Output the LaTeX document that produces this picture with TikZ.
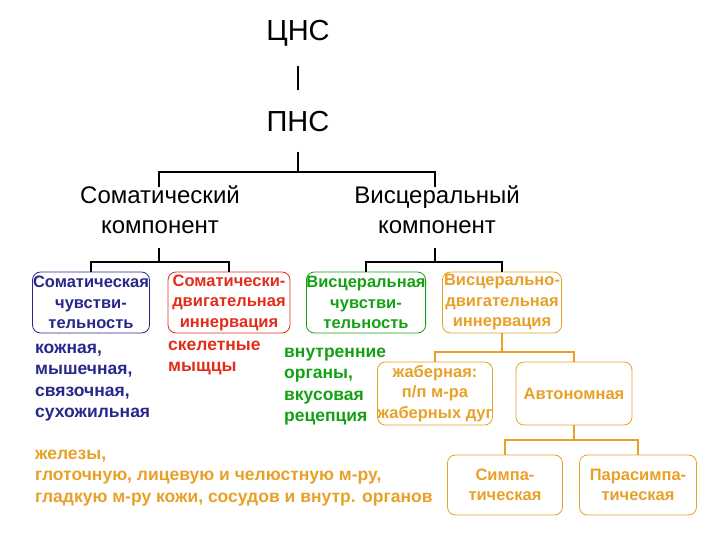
\documentclass[tikz,border=0pt]{standalone}
\usepackage{fontspec}
\setmainfont{Liberation Sans}
\begin{document}
\begin{tikzpicture}[x=1pt,y=-1pt,
  big/.style={font=\fontsize{29}{32}\selectfont,inner sep=0pt},
  comp/.style={font=\fontsize{24}{30}\selectfont,align=center,inner sep=0pt},
  bx/.style={draw=#1,text=#1,rounded corners=8pt,line width=0.8pt,font=\bfseries\fontsize{16.5}{20.5}\selectfont,align=center,inner sep=0pt},
  lst/.style={text=#1,font=\bfseries\fontsize{17.5}{21.3}\selectfont,align=left,anchor=north west,inner sep=0pt},
  ln/.style={draw=#1,line width=1.6pt}]
\useasboundingbox (0,0) rectangle (720,540);
\definecolor{cblue}{RGB}{40,40,140}
\definecolor{cred}{RGB}{225,45,25}
\definecolor{cgreen}{RGB}{20,160,20}
\definecolor{corange}{RGB}{232,160,40}
\node[big] (cns) at (298,33) {ЦНС};
\node[big] (pns) at (298,122) {ПНС};
\draw[ln=black] (298,66) -- (298,90);
\node[comp] (som) at (160,210) {Соматический\\компонент};
\node[comp] (vis) at (437,210) {Висцеральный\\компонент};
\draw[ln=black] (298,152) -- (298,172);
\draw[ln=black] (159,187) -- (159,172) -- (435,172) -- (435,187);
% boxes
\node[bx=cblue, minimum width=117pt, minimum height=61pt] (b1) at (91,302.5) {Соматическая\\чувстви-\\тельность};
\node[bx=cred, minimum width=122pt, minimum height=61pt] (b2) at (229,302.5) {Соматически-\\двигательная\\иннервация};
\node[bx=cgreen, minimum width=118pt, minimum height=61pt] (b3) at (366,302.5) {Висцеральная\\чувстви-\\тельность};
\node[bx=corange, minimum width=119pt, minimum height=61pt] (b4) at (502,302.5) {Висцерально-\\двигательная\\иннервация};
\draw[ln=black] (159,248) -- (159,262);
\draw[ln=black] (b1.north) -- (91,262) -- (229,262) -- (b2.north);
\draw[ln=black] (435,248) -- (435,262);
\draw[ln=black] (b3.north) -- (366,262) -- (502,262) -- (b4.north);
% lists
\node[lst=cblue] (l1) at (35,344) {кожная,\\мышечная,\\связочная,\\сухожильная};
\node[lst=cred] (l2) at (168,341) {скелетные\\мыщцы};
\node[lst=cgreen] (l3) at (284,348) {внутренние\\органы,\\вкусовая\\рецепция};
% visceral motor
\node[bx=corange, minimum width=115pt, minimum height=63pt] (b5) at (435,393.5) {жаберная:\\п/п м-ра\\жаберных дуг};
\node[bx=corange, minimum width=116pt, minimum height=63pt] (b6) at (574,393.5) {Автономная};
\draw[ln=corange] (b4.south) -- (502,352);
\draw[ln=corange] (b5.north) -- (435,352) -- (574,352) -- (b6.north);
\node[bx=corange, minimum width=115pt, minimum height=60pt] (b7) at (505,485) {Симпа-\\тическая};
\node[bx=corange, minimum width=117pt, minimum height=60pt] (b8) at (638,485) {Парасимпа-\\тическая};
\draw[ln=corange] (b6.south) -- (574,440);
\draw[ln=corange] (b7.north) -- (505,440) -- (638,440) -- (b8.north);
\node[lst=corange] (l4) at (35,450) {железы,\\глоточную, лицевую и челюстную м-ру,\\гладкую м-ру кожи, сосудов и внутр. органов};
\end{tikzpicture}
\end{document}
